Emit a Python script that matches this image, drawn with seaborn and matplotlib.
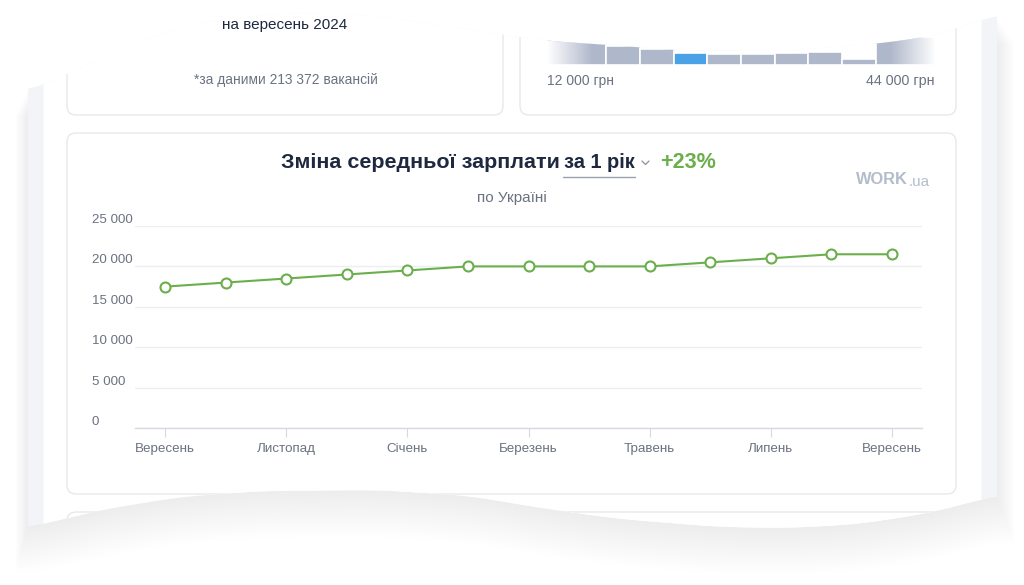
import numpy as np
import matplotlib
matplotlib.use('Agg')
import matplotlib.pyplot as plt
import seaborn as sns
import pandas as pd
from matplotlib.patches import Polygon, FancyBboxPatch
from matplotlib.transforms import ScaledTranslation, blended_transform_factory

# ---------------- data ----------------
months = ['Вересень', 'Жовтень', 'Листопад', 'Грудень', 'Січень', 'Лютий', 'Березень',
          'Квітень', 'Травень', 'Червень', 'Липень', 'Серпень', 'Вересень']
salary = [17500, 18000, 18500, 19000, 19500, 20000, 20000, 20000, 20000, 20500, 21000, 21500, 21500]
yticks = [0, 5000, 10000, 15000, 20000, 25000]
ytick_labels = ['0', '5 000', '10 000', '15 000', '20 000', '25 000']
xtick_idx = [0, 2, 4, 6, 8, 10, 12]

hist_edges = [5000, 12000, 16000, 20000, 24000, 28000, 32000, 36000, 40000, 44000, 51000]
hist_heights = [28, 19, 16, 12, 11, 11, 12, 13, 6, 28]
hist_highlight = 3

title_main = 'Зміна середньої зарплати'
title_period = 'за 1 рік'
title_change = '+23%'
subtitle = 'по Україні'

# ---------------- style ----------------
sns.set_theme(style='white')
plt.rcParams['font.family'] = ['Liberation Sans', 'DejaVu Sans']

GREEN = '#6aaf4c'
DARK = '#1e2940'
GRAY = '#6b7280'
BORDER = '#e3e6eb'

W, H = 1024, 585
fig = plt.figure(figsize=(W / 100, H / 100), dpi=100)
fig.patch.set_facecolor('white')

bg = fig.add_axes([0, 0, 1, 1])
bg.set_xlim(0, W)
bg.set_ylim(H, 0)
bg.axis('off')
bg.set_zorder(0)


def wave(pts, xs):
    px, py = zip(*pts)
    y = np.interp(xs, px, py)
    k = np.exp(-0.5 * (np.arange(-30, 31) / 9.0) ** 2)
    k /= k.sum()
    yp = np.pad(y, 30, mode='edge')
    return np.convolve(yp, k, mode='same')[30:-30]


xs = np.linspace(28, 997, 500)
top_pts = [(28, 92), (67, 74), (130, 45), (200, 22), (285, 13), (370, 15), (450, 27),
           (520, 37), (547, 41), (610, 45), (673, 50), (720, 51), (800, 50), (875, 44),
           (935, 36), (997, 14)]
bot_pts = [(28, 528), (100, 510), (180, 497), (260, 491), (380, 490), (470, 496),
           (540, 508), (620, 519), (720, 527), (790, 528), (860, 524), (935, 512), (997, 495)]
ytop = wave(top_pts, xs)
ybot = wave(bot_pts, xs)

# soft shadow (each layer = one 8-bit alpha step)
for k in range(18, 0, -1):
    sx = xs.copy()
    sx[0] -= k * 0.7
    sx[-1] += k * 1.0
    verts = np.vstack([np.column_stack([sx, ytop + k * 1.5]),
                       np.column_stack([sx[::-1], (ybot + k * 2.6)[::-1]])])
    bg.add_patch(Polygon(verts, closed=True, facecolor='black', edgecolor='none',
                         alpha=0.0042, zorder=1))

paper_verts = np.vstack([np.column_stack([xs, ytop]), np.column_stack([xs[::-1], ybot[::-1]])])
paper = Polygon(paper_verts, closed=True, facecolor='#f3f4f7', edgecolor='none', zorder=2)
bg.add_patch(paper)
mask = (xs >= 42) & (xs <= 982)
inner_verts = np.vstack([np.column_stack([xs[mask], ytop[mask]]),
                         np.column_stack([xs[mask][::-1], ybot[mask][::-1]])])
bg.add_patch(Polygon(inner_verts, closed=True, facecolor='white', edgecolor='none', zorder=3))

# cards
for (x0, y0, x1, y1) in [(67, -60, 503, 115), (520, -60, 956, 115), (67, 133, 956, 494), (67, 512, 956, 700)]:
    c = FancyBboxPatch((x0, y0), x1 - x0, y1 - y0, boxstyle='round,pad=0,rounding_size=9',
                       facecolor='white', edgecolor=BORDER, linewidth=0.9, zorder=4)
    bg.add_patch(c)
    c.set_clip_path(paper)

renderer = fig.canvas.get_renderer()


def fit_text(s, x0, x1, yc, **kw):
    t = bg.text(x0, yc, s, ha='left', va='center', fontsize=10, zorder=6, **kw)
    w = t.get_window_extent(renderer).width
    t.set_fontsize(10 * (x1 - x0) / w)
    return t


fit_text('на вересень 2024', 222, 348, 25, color=DARK)
fit_text('*за даними 213 372 вакансій', 194, 377, 80, color=GRAY)
fit_text('12 000 грн', 547, 614, 81, color=GRAY)
fit_text('44 000 грн', 866, 935, 81, color=GRAY)

fit_text(title_main, 281, 558, 163, color=DARK, fontweight='bold')
fit_text(title_period, 564, 635, 163, color=DARK, fontweight='bold')
bg.plot([563, 635], [176.5, 176.5], color='#9aa1ad', lw=1.0, zorder=6)
bg.plot([642, 645.5, 649], [161, 164.5, 161], color='#8a909b', lw=0.9, zorder=6)
fit_text(title_change, 660, 716, 163, color=GREEN, fontweight='bold')
fit_text(subtitle, 477, 547, 198, color=GRAY)
fit_text('WORK', 856, 908, 180, color='#b4bccb', fontweight='bold')
fit_text('.ua', 909, 930, 182, color='#b4bccb')

# ---------------- histogram (salary distribution) ----------------
hx0, hx1, hbase, htop = 547, 935, 65, 35
hax = fig.add_axes([hx0 / W, 1 - hbase / H, (hx1 - hx0) / W, (hbase - htop) / H])
hax.set_zorder(2)
hax.patch.set_alpha(0)
centers = [(a + b) / 2 for a, b in zip(hist_edges[:-1], hist_edges[1:])]
sns.histplot(x=centers, weights=hist_heights, bins=hist_edges, ax=hax, stat='count',
             color='#afb7ca', alpha=1, edgecolor='white', linewidth=1.2)
hax.set_xlim(hist_edges[0], hist_edges[-1])
hax.set_ylim(0, hbase - htop)
hax.axis('off')
for i, p in enumerate(hax.patches):
    p.set_facecolor('#4aa2e6' if i == hist_highlight else '#afb7ca')
    p.set_clip_path(paper)
n = 64
fade_l = np.zeros((1, n, 4)); fade_l[..., :3] = 1; fade_l[0, :, 3] = np.clip(np.linspace(1.0, -0.3, n), 0, 1)
fade_r = np.zeros((1, n, 4)); fade_r[..., :3] = 1; fade_r[0, :, 3] = np.clip(np.linspace(-0.3, 1.0, n), 0, 1)
im1 = hax.imshow(fade_l, extent=[hist_edges[0], hist_edges[1], 0, 30], aspect='auto', zorder=5)
im2 = hax.imshow(fade_r, extent=[hist_edges[-2], hist_edges[-1], 0, 30], aspect='auto', zorder=5)
hax.set_xlim(hist_edges[0], hist_edges[-1])
hax.set_ylim(0, hbase - htop)
im1.set_clip_path(paper)
im2.set_clip_path(paper)

# ---------------- main line chart ----------------
ax_l, ax_r, ax_t, ax_b = 135, 922, 226, 428
ax = fig.add_axes([ax_l / W, 1 - ax_b / H, (ax_r - ax_l) / W, (ax_b - ax_t) / H])
ax.set_zorder(3)
ax.patch.set_alpha(0)
df = pd.DataFrame({'i': np.arange(len(salary)), 'salary': salary})
sns.lineplot(data=df, x='i', y='salary', ax=ax, color=GREEN, linewidth=1.5,
             marker='o', markersize=7.2, markerfacecolor='white', markeredgecolor=GREEN,
             markeredgewidth=1.5, clip_on=False, zorder=4)
ax.set_xlim(-0.5, len(salary) - 0.5)
ax.set_ylim(0, 25000)
ax.set_xlabel('')
ax.set_ylabel('')
for sp in ['top', 'right', 'left']:
    ax.spines[sp].set_visible(False)
ax.spines['bottom'].set_color('#d6d9df')
ax.spines['bottom'].set_linewidth(1.0)
ax.set_yticks(yticks)
ax.set_yticklabels([])
ax.grid(axis='y', color='#eceef1', linewidth=1.0)
ax.grid(axis='x', visible=False)
ax.tick_params(axis='y', length=0)
ax.set_xticks(xtick_idx)
ax.set_xticklabels([months[i] for i in xtick_idx])
ax.tick_params(axis='x', length=6.5, width=0.8, color='#d6d9df', pad=4.5,
               labelsize=9.6, labelcolor=GRAY, bottom=True)

ytrans = blended_transform_factory(ax.transAxes, ax.transData) + ScaledTranslation(0, 0.03, fig.dpi_scale_trans)
for v, lab in zip(yticks, ytick_labels):
    ax.text(-(ax_l - 92) / (ax_r - ax_l), v, lab, transform=ytrans, ha='left', va='baseline',
            fontsize=9.6, color=GRAY)

fig.savefig('out.png', dpi=100, facecolor='white')
